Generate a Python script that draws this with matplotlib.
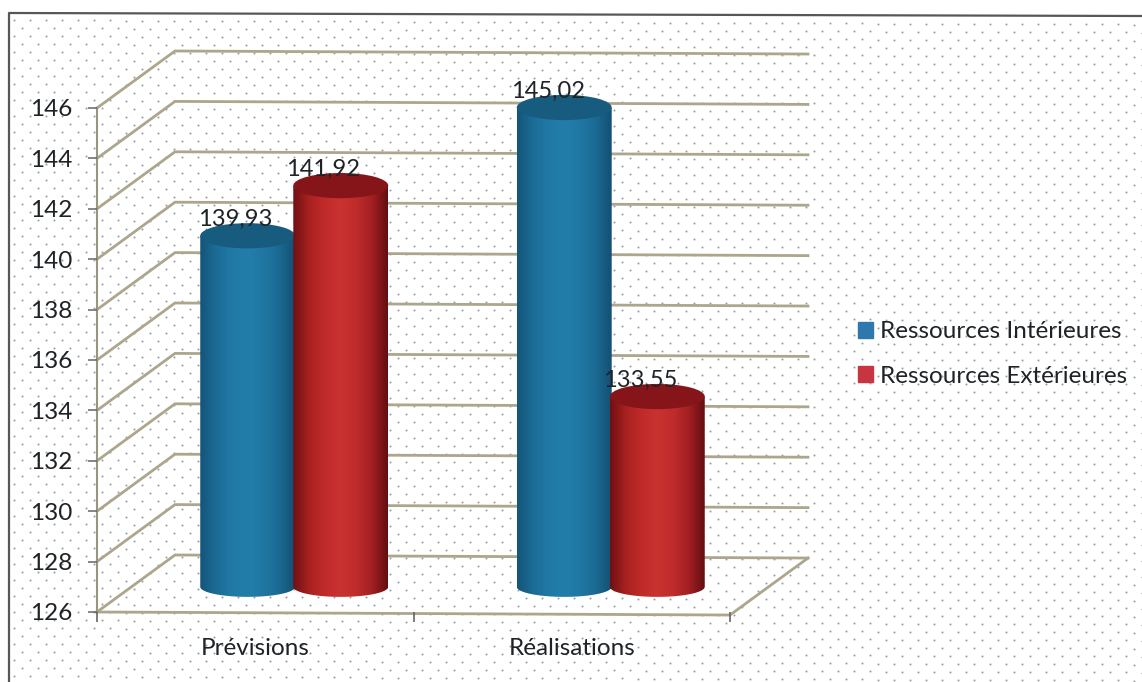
#!/usr/bin/env python3

import numpy as np
import matplotlib
matplotlib.use('Agg')
import matplotlib.pyplot as plt
from matplotlib.colors import LinearSegmentedColormap
from matplotlib.patches import Ellipse, PathPatch
from matplotlib.path import Path

categories = ['Prévisions', 'Réalisations']
series_names = ['Ressources Intérieures', 'Ressources Extérieures']
interieures = [139.93, 145.02]
exterieures = [141.92, 133.55]
labels_interieures = ['139,93', '145,02']
labels_exterieures = ['141,92', '133,55']
y_ticks = [126, 128, 130, 132, 134, 136, 138, 140, 142, 144, 146]

W, H = 1142, 682
plt.rcParams['font.family'] = ['Lato', 'DejaVu Sans']
TEXT = '#1f2326'
GRID = '#aca68c'

fig = plt.figure(figsize=(W / 100, H / 100), dpi=100, facecolor='white')

# page background: dotted paper and frame
bg = fig.add_axes([0, 0, 1, 1], zorder=0)
bg.set_xlim(0, W)
bg.set_ylim(H, 0)
bg.axis('off')
xs, ys = np.meshgrid(np.arange(14, W, 16), np.arange(20, H, 16))
ys = ys + xs * 0.004
bg.scatter(xs.ravel(), ys.ravel(), s=2.2, color='#9aa1a6', linewidths=0)
bg.scatter(xs.ravel() + 8, ys.ravel() + 8, s=2.2, color='#9aa1a6', linewidths=0)
bg.plot([9, 9, W], [H, 13, 16], color='#55585a', lw=1.6)

# front plane of the chart; everything below is in category/value units
ax = fig.add_axes([97 / W, 1 - 612 / H, 633 / W, 504 / H], zorder=1)
ax.patch.set_alpha(0)
for s in ax.spines.values():
    s.set_visible(False)

depth_x = 78 / 316.5
depth_y = 57 / 25.2
sag = 0.12  # the long lines drop slightly towards the right

# floor and wall gridlines
for v in y_ticks:
    ax.plot([0, depth_x, 2 + depth_x], [v, v + depth_y, v + depth_y - sag],
            color=GRID, lw=2, clip_on=False, solid_joinstyle='miter', zorder=1)
ax.plot([0, 2, 2 + depth_x], [126, 126 - sag, 126 + depth_y - sag], color=GRID, lw=2,
        clip_on=False, zorder=1)
ax.plot([0, 0], [126, 146], color='#99967f', lw=1.5, clip_on=False, zorder=1)

ax.set_xticks([0, 1, 2])
ax.set_xticklabels([])
ax.set_yticks(y_ticks)
ax.tick_params(axis='y', length=6.5, width=1.1, color='#666666', labelsize=17.5,
               labelcolor=TEXT, pad=11)
ax.tick_params(axis='x', length=7, width=1.2, color='#666666')
for i, c in enumerate(categories):
    ax.text(i + 0.5, 124.57, c, ha='center', va='center', fontsize=17.5, color=TEXT)

blue_cmap = LinearSegmentedColormap.from_list(
    'blue', ['#14557a', '#1b6c96', '#2079a5', '#227ea9', '#1f78a3', '#1b6a93', '#135073'])
red_cmap = LinearSegmentedColormap.from_list(
    'red', ['#701014', '#a8211f', '#c02b2a', '#c9322f', '#c02c2b', '#a31f22', '#640e13'])

bar_w = 0.3
ell_top = 0.5
ell_bottom = 0.4
base = 127.0
lift = 1.0  # cylinders stand halfway into the depth of the floor


def cylinder(xc, value, cmap, top_color, label, nudge):
    x0, x1 = xc - bar_w / 2, xc + bar_w / 2
    top = value + lift
    t = np.linspace(np.pi, 2 * np.pi, 60)
    verts = [(x0, top)] + list(zip(xc + bar_w / 2 * np.cos(t), base + ell_bottom * np.sin(t)))
    verts += [(x1, top), (x0, top)]
    codes = [Path.MOVETO] + [Path.LINETO] * (len(verts) - 2) + [Path.CLOSEPOLY]
    body = PathPatch(Path(verts, codes), facecolor='none', edgecolor='none',
                     clip_on=False, zorder=3)
    ax.add_patch(body)
    im = ax.imshow(np.linspace(0, 1, 128).reshape(1, -1), cmap=cmap, aspect='auto',
                   extent=[x0, x1, base - ell_bottom, top], zorder=3)
    im.set_clip_path(body)
    ax.add_patch(Ellipse((xc, top), bar_w, 2 * ell_top, facecolor=top_color,
                         edgecolor='none', clip_on=False, zorder=3))
    ax.text(xc + nudge, top + 0.64, label, ha='center', va='center', fontsize=17,
            color=TEXT, clip_on=False, zorder=4)


# label shifts relative to the centre of each cylinder
nudge_interieures = [-0.04, -0.05]
nudge_exterieures = [-0.055, -0.055]

for i in range(2):
    xc = i + 0.5 + depth_x / 2
    cylinder(xc - 0.147, interieures[i], blue_cmap, '#175b7f', labels_interieures[i],
             nudge_interieures[i])
    cylinder(xc + 0.147, exterieures[i], red_cmap, '#851519', labels_exterieures[i],
             nudge_exterieures[i])

ax.set_xlim(0, 2)
ax.set_ylim(126, 146)

# legend
handles = [plt.Rectangle((0, 0), 1, 1, color='#2f78ad'),
           plt.Rectangle((0, 0), 1, 1, color='#c8343f')]
fig.legend(handles, series_names, loc='center left', bbox_to_anchor=(858 / W, 1 - 354 / H),
           frameon=False, fontsize=17.5, labelcolor=TEXT, handlelength=0.62, handleheight=0.62,
           handletextpad=0.3, labelspacing=0.95, borderpad=0, borderaxespad=0)

fig.savefig('out.png', dpi=100)
